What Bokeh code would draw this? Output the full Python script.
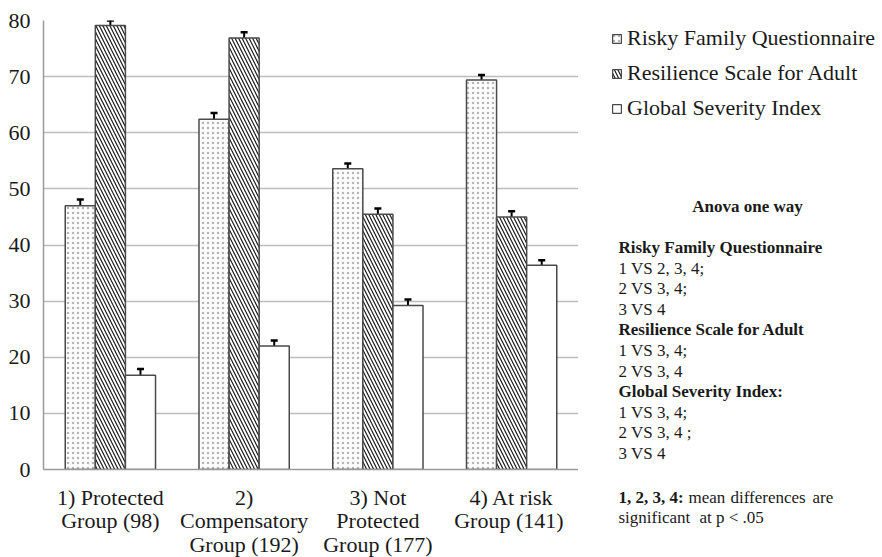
from bokeh.plotting import figure
from bokeh.layouts import row
from bokeh.models import (ColumnDataSource, FactorRange, Whisker, TeeHead, Legend, LegendItem,
                          FixedTicker, Range1d)
from bokeh.core.properties import value
from bokeh.transform import dodge
from bokeh.embed import file_html
from bokeh.resources import INLINE

groups = ["1) Protected\nGroup (98)", "2)\nCompensatory\nGroup (192)",
          "3) Not\nProtected\nGroup (177)", "4) At risk\nGroup  (141)"]
rfq = [47.0, 62.4, 53.6, 69.4]
rfq_err = [1.1, 1.1, 0.9, 0.9]
rsa = [79.1, 76.9, 45.5, 45.0]
rsa_err = [0.9, 1.0, 1.0, 1.0]
gsi = [16.8, 22.0, 29.2, 36.4]
gsi_err = [1.1, 1.0, 1.1, 0.9]
y_ticks = [0, 10, 20, 30, 40, 50, 60, 70, 80]

series_names = ["Risky Family Questionnaire", "Resilience Scale for Adult", "Global Severity Index"]

anova_title = "Anova one way"
anova_lines = ["Risky Family Questionnaire", "1 VS 2, 3, 4;", "2 VS 3, 4;", "3 VS 4",
               "Resilience Scale for Adult", "1 VS 3, 4;", "2 VS 3, 4",
               "Global Severity Index:", "1 VS 3, 4;", "2 VS 3, 4 ;", "3 VS 4"]
anova_bold = [True, False, False, False, True, False, False, True, False, False, False]
note_bold = "1, 2, 3, 4:"
note_words = ["mean", "differences", "are"]
note_line2 = ["significant", "at p < .05"]

FONT = "Liberation Serif"
TXT = "#1a1a1a"

src = ColumnDataSource(data=dict(
    g=groups, rfq=rfq, rsa=rsa, gsi=gsi,
    rfq_hi=[v + e for v, e in zip(rfq, rfq_err)],
    rsa_hi=[v + e for v, e in zip(rsa, rsa_err)],
    gsi_hi=[v + e for v, e in zip(gsi, gsi_err)],
))

p = figure(x_range=FactorRange(*groups), y_range=(0, 80),
           frame_width=535, frame_height=449,
           min_border_left=43, min_border_top=20, min_border_bottom=85, min_border_right=0,
           output_backend="svg", toolbar_location=None)
p.outline_line_color = None

bw = 0.225
offs = [-bw, 0.0, bw]
cols = ["rfq", "rsa", "gsi"]
styles = [
    dict(fill_color="#fdfdfd", hatch_pattern="dot", hatch_color="#b5b5b5", hatch_scale=5, hatch_weight=1),
    dict(fill_color="white", hatch_pattern="\\", hatch_color="#1a1a1a", hatch_scale=7, hatch_weight=1.2),
    dict(fill_color="white"),
]
for off, col, st in zip(offs, cols, styles):
    p.vbar(x=dodge("g", off, range=p.x_range), top=col, width=bw, source=src,
           line_color="#4a4a4a", line_width=1.5, **st)
    w = Whisker(base=dodge("g", off, range=p.x_range), upper=col + "_hi", lower=col, source=src,
                line_color="black", line_width=2,
                upper_head=TeeHead(size=7, line_color="black", line_width=2.5), lower_head=None)
    p.add_layout(w)

p.yaxis.ticker = FixedTicker(ticks=y_ticks)
p.ygrid.grid_line_color = "#bdbdbd"
p.ygrid.grid_line_width = 1.5
p.xgrid.grid_line_color = None
for ax in (p.xaxis, p.yaxis):
    ax.axis_line_color = "#9a9a9a"
    ax.axis_line_width = 1.5
    ax.major_tick_line_color = None
    ax.minor_tick_line_color = None
    ax.major_label_text_font = FONT
    ax.major_label_text_font_size = "22px"
    ax.major_label_text_color = TXT
p.yaxis.major_label_standoff = 7
p.xaxis.major_label_standoff = 9
p.xaxis.major_label_text_line_height = 0.95

# right-hand panel: legend and ANOVA notes (coordinates in panel pixels, y downward)
W2, H2 = 300, 554
p2 = figure(x_range=Range1d(0, W2), y_range=Range1d(H2, 0),
            frame_width=W2, frame_height=H2, min_border=0,
            output_backend="svg", toolbar_location=None)
p2.axis.visible = False
p2.grid.visible = False
p2.outline_line_color = None

X0, Y0 = 578, 1  # page position of this panel's origin
swatches = []
for col, st in zip(cols, styles):
    r = p2.vbar(x=col, top=col, width=1, source=src, line_color="#4a4a4a", line_width=1.2, **st)
    r.visible = False  # only used as legend swatch
    swatches.append(r)
legend = Legend(items=[LegendItem(label=n, renderers=[r], index=0) for n, r in zip(series_names, swatches)],
                location=(611 - X0, H2 - (23 + 99 - Y0)), orientation="vertical",
                label_text_font=FONT, label_text_font_size="22px", label_text_color=TXT,
                glyph_width=11, glyph_height=11, label_height=24, spacing=9, label_standoff=5,
                padding=5, margin=0, border_line_color=None, background_fill_alpha=0,
                inactive_fill_alpha=0)
p2.add_layout(legend)

fs = "17px"
p2.text(x=[747 - X0], y=[187 - Y0], text=[anova_title], text_font=value(FONT), text_font_size=fs,
        text_font_style="bold", text_align="center", text_baseline="middle", text_color=TXT)
ys = [228 + i * 20.6 - Y0 for i in range(len(anova_lines))]
p2.text(x=[618 - X0] * sum(anova_bold), y=[y for y, b in zip(ys, anova_bold) if b],
        text=[t for t, b in zip(anova_lines, anova_bold) if b], text_font=value(FONT), text_font_size=fs,
        text_font_style="bold", text_align="left", text_baseline="middle", text_color=TXT)
p2.text(x=[618 - X0] * (len(anova_lines) - sum(anova_bold)), y=[y for y, b in zip(ys, anova_bold) if not b],
        text=[t for t, b in zip(anova_lines, anova_bold) if not b], text_font=value(FONT), text_font_size=fs,
        text_align="left", text_baseline="middle", text_color=TXT)
p2.text(x=[618 - X0], y=[478 - Y0], text=[note_bold], text_font=value(FONT), text_font_size=fs,
        text_font_style="bold", text_align="left", text_baseline="middle", text_color=TXT)
p2.text(x=[688 - X0, 730 - X0, 812 - X0, 618 - X0, 699 - X0],
        y=[478 - Y0, 478 - Y0, 478 - Y0, 498 - Y0, 498 - Y0],
        text=note_words + note_line2, text_font=value(FONT), text_font_size=fs,
        text_align="left", text_baseline="middle", text_color=TXT)

layout = row(p, p2)
open("out.html", "w").write(file_html(layout, INLINE))
